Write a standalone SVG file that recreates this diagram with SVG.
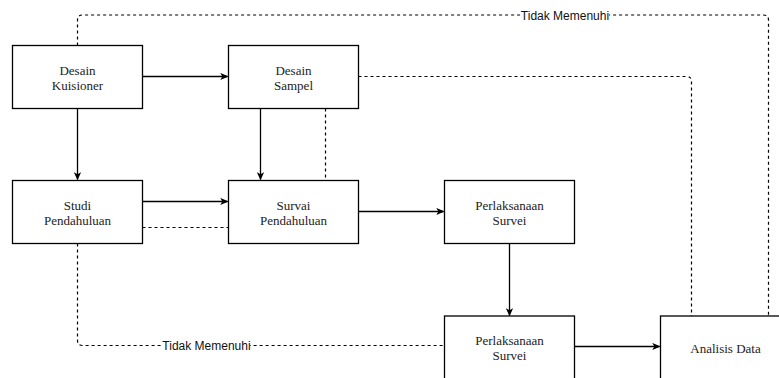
<svg xmlns="http://www.w3.org/2000/svg" width="779" height="378" viewBox="0 0 779 378">
<defs>
<marker id="arr" viewBox="0 0 10 10" refX="9" refY="5" markerWidth="8" markerHeight="8" markerUnits="userSpaceOnUse" orient="auto">
<path d="M0,0.5 L10,5 L0,9.5 L2.5,5 Z" fill="#000"/>
</marker>
</defs>
<style>
.box{fill:#fff;stroke:#000;stroke-width:1.3}
.t{font-family:'Liberation Serif','DejaVu Serif',serif;font-size:13px;fill:#222;text-anchor:middle}
.l{font-family:'Liberation Sans',Arial,sans-serif;font-size:12px;fill:#111;text-anchor:middle}
.s{fill:none;stroke:#000;stroke-width:1.3}
.d{fill:none;stroke:#000;stroke-width:1.2;stroke-dasharray:3 3}
.lb{fill:#fff}
</style>
<rect width="779" height="378" fill="#fff"/>
<g id="connectors">
<path class="s" d="M142.5,76.5 H227.5" marker-end="url(#arr)"/>
<path class="s" d="M77.5,108.5 V179.5" marker-end="url(#arr)"/>
<path class="s" d="M260.5,108.5 V179.5" marker-end="url(#arr)"/>
<path class="d" d="M325.5,108.5 V180.5"/>
<path class="s" d="M142.5,201.5 H227.5" marker-end="url(#arr)"/>
<path class="d" d="M142.5,227.5 H228.5"/>
<path class="s" d="M358.5,211.5 H443.5" marker-end="url(#arr)"/>
<path class="s" d="M509.5,243.5 V315.5" marker-end="url(#arr)"/>
<path class="s" d="M574.5,346.5 H659.5" marker-end="url(#arr)"/>
<path class="d" d="M358.5,76.5 H686.5 Q691.5,76.5 691.5,81.5 V316"/>
<path class="d" d="M77.5,45.5 V20 Q77.5,15 82.5,15 H763.5 Q768.5,15 768.5,20 V316"/>
<path class="d" d="M77.5,243.5 V340.5 Q77.5,345.5 82.5,345.5 H444.5"/>
<rect class="lb" x="163" y="338" width="87" height="15"/>
<text class="l" x="206.5" y="350">Tidak Memenuhi</text>
<rect class="lb" x="521" y="8" width="88" height="15"/>
<text class="l" x="565" y="19.5">Tidak Memenuhi</text>
</g>
<g id="desain-kuisioner">
<rect class="box" x="12.5" y="45.5" width="130" height="63"/>
<text class="t" x="77.5" y="75" font-family="Liberation Serif, serif">Desain</text>
<text class="t" x="77.5" y="89.5" font-family="Liberation Serif, serif">Kuisioner</text>
</g>
<g id="desain-sampel">
<rect class="box" x="228.5" y="45.5" width="130" height="63"/>
<text class="t" x="293.5" y="75">Desain</text>
<text class="t" x="293.5" y="89.5">Sampel</text>
</g>
<g id="studi-pendahuluan">
<rect class="box" x="12.5" y="180.5" width="130" height="63"/>
<text class="t" x="77.5" y="210">Studi</text>
<text class="t" x="77.5" y="225">Pendahuluan</text>
</g>
<g id="survai-pendahuluan">
<rect class="box" x="228.5" y="180.5" width="130" height="63"/>
<text class="t" x="293.5" y="210">Survai</text>
<text class="t" x="293.5" y="225">Pendahuluan</text>
</g>
<g id="perlaksanaan-survei-1">
<rect class="box" x="444.5" y="180.5" width="130" height="63"/>
<text class="t" x="509.5" y="210">Perlaksanaan</text>
<text class="t" x="509.5" y="225">Survei</text>
</g>
<g id="perlaksanaan-survei-2">
<rect class="box" x="444.5" y="316" width="130" height="63"/>
<text class="t" x="509.5" y="345">Perlaksanaan</text>
<text class="t" x="509.5" y="360">Survei</text>
</g>
<g id="analisis-data">
<rect class="box" x="660.5" y="316" width="130" height="63"/>
<text class="t" x="725.5" y="352.5">Analisis Data</text>
</g>
</svg>
